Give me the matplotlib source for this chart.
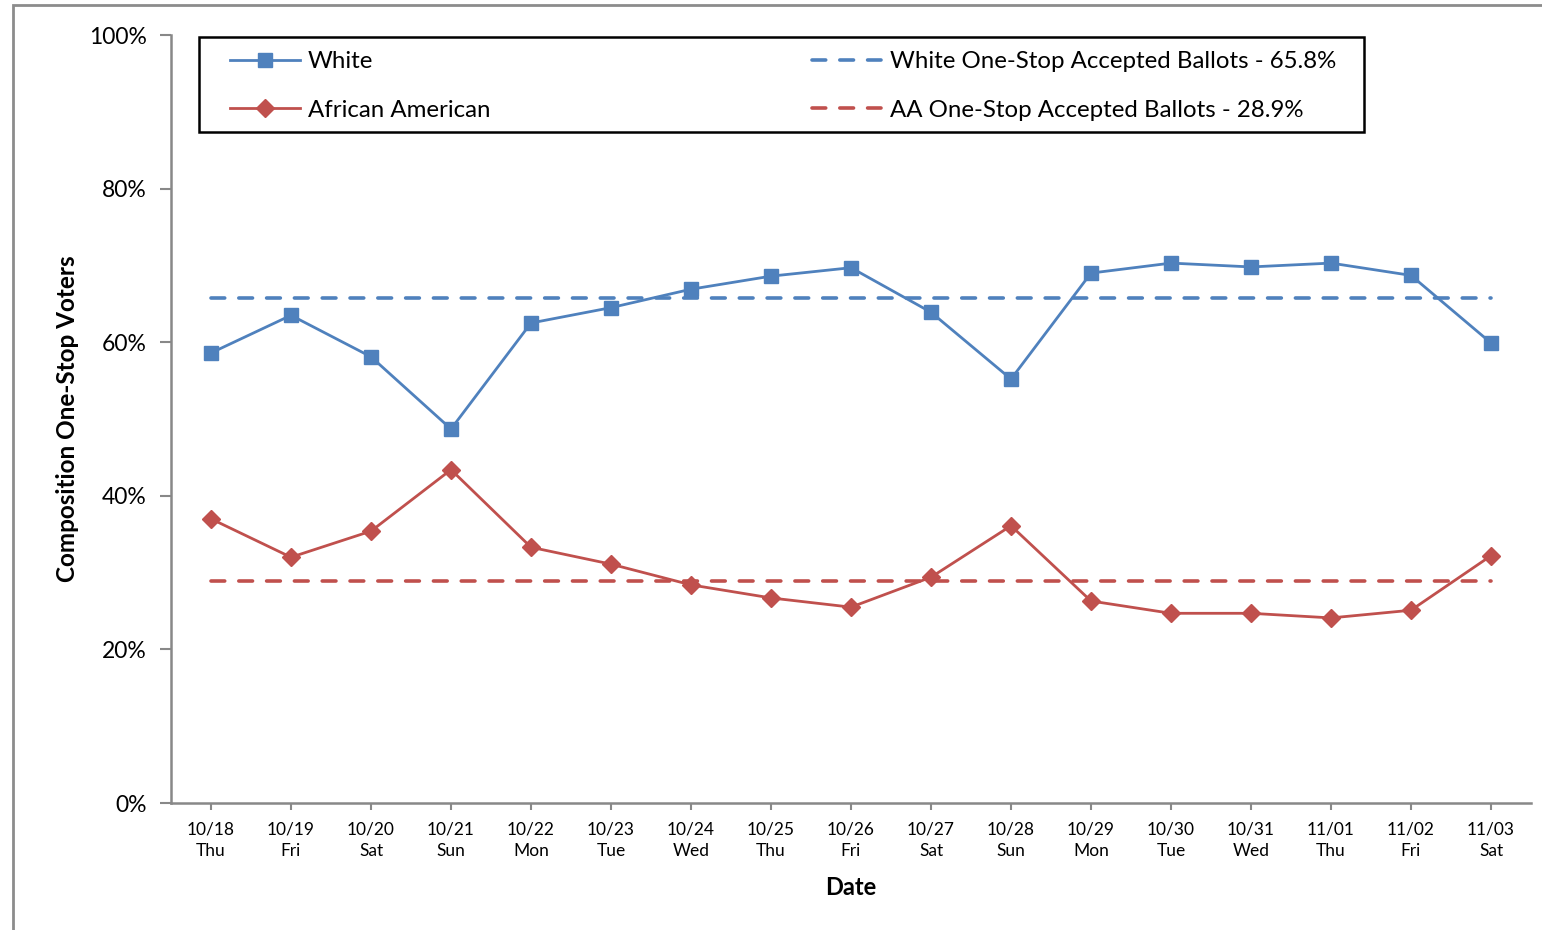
import matplotlib
matplotlib.use("Agg")
import matplotlib.pyplot as plt
from matplotlib.patches import Rectangle
from matplotlib.ticker import FuncFormatter

dates = ["10/18", "10/19", "10/20", "10/21", "10/22", "10/23", "10/24", "10/25", "10/26",
         "10/27", "10/28", "10/29", "10/30", "10/31", "11/01", "11/02", "11/03"]
days = ["Thu", "Fri", "Sat", "Sun", "Mon", "Tue", "Wed", "Thu", "Fri",
        "Sat", "Sun", "Mon", "Tue", "Wed", "Thu", "Fri", "Sat"]
white = [58.6, 63.5, 58.1, 48.7, 62.5, 64.5, 66.9, 68.6, 69.7,
         63.9, 55.2, 69.0, 70.3, 69.8, 70.3, 68.7, 59.9]
aa = [37.0, 32.0, 35.4, 43.4, 33.3, 31.1, 28.4, 26.7, 25.5,
      29.4, 36.1, 26.3, 24.7, 24.7, 24.1, 25.1, 32.2]
white_ref = 65.8
aa_ref = 28.9

plt.rcParams['font.family'] = ['Lato', 'DejaVu Sans']

BLUE = "#4F81BD"
RED = "#C0504D"
GRAY = "#888888"

W, H = 1542, 930
fig = plt.figure(figsize=(W/100, H/100), dpi=100)
fig.patches.append(Rectangle((13/W, -0.1), 2, 1.1 - 5/H, transform=fig.transFigure,
                             fill=False, edgecolor="#8c8c8c", linewidth=2))
AX_L, AX_R, AX_T, AX_B = 171, 1531, 35, 803
ax = fig.add_axes([AX_L/W, 1-AX_B/H, (AX_R-AX_L)/W, (AX_B-AX_T)/H])

def px2ax(xp, yp):
    return (xp-AX_L)/(AX_R-AX_L), 1-(yp-AX_T)/(AX_B-AX_T)

x = list(range(len(dates)))
l1, = ax.plot(x, white, color=BLUE, lw=2.0, marker="s", markersize=9.5, label="White", zorder=4)
l2, = ax.plot(x, aa, color=RED, lw=2.0, marker="D", markersize=9, label="African American", zorder=4)
l3, = ax.plot([x[0], x[-1]], [white_ref, white_ref], color=BLUE, lw=2.6, dashes=(3.8, 3.9),
              dash_capstyle="round", label="White One-Stop Accepted Ballots - 65.8%", zorder=3)
l4, = ax.plot([x[0], x[-1]], [aa_ref, aa_ref], color=RED, lw=2.6, dashes=(3.8, 3.9),
              dash_capstyle="round", label="AA One-Stop Accepted Ballots - 28.9%", zorder=3)

ax.set_xlim(-0.5, len(dates) - 0.5)
ax.set_ylim(0, 100)
ax.set_yticks([0, 20, 40, 60, 80, 100])
ax.yaxis.set_major_formatter(FuncFormatter(lambda v, p: f"{v:.0f}%"))
ax.set_xticks(x)
ax.set_xticklabels([f"{d}\n{w}" for d, w in zip(dates, days)], fontsize=12.5, linespacing=1.45)
ax.tick_params(axis="y", labelsize=16.5, length=8, width=1.5, color=GRAY, pad=9.5, direction="out")
ax.tick_params(axis="x", length=5, width=1.5, color=GRAY, pad=8, direction="out")

for s in ["top", "right"]:
    ax.spines[s].set_visible(False)
for s in ["left", "bottom"]:
    ax.spines[s].set_color(GRAY)
    ax.spines[s].set_linewidth(1.8)

ax.set_ylabel("Composition One-Stop Voters", fontsize=17.5, fontweight="bold", labelpad=7)
ax.set_xlabel("Date", fontsize=17, fontweight="bold", labelpad=12)

# legend frame
fx0, fy0 = px2ax(199, 132)
fx1, fy1 = px2ax(1364, 37)
ax.add_patch(Rectangle((fx0, fy0), fx1-fx0, fy1-fy0, transform=ax.transAxes, fill=True,
                       facecolor="white", edgecolor="black", linewidth=1.8, zorder=5, clip_on=False))
lx0, ltop = px2ax(230, 51)
lx1, _ = px2ax(1336, 51)
leg = ax.legend(handles=[l1, l2, l3, l4], ncol=2, loc="upper left",
                bbox_to_anchor=(lx0, ltop - 0.1, lx1 - lx0, 0.1),
                mode="expand", fontsize=17.3, frameon=False,
                borderaxespad=0, borderpad=0, handlelength=2.9, handletextpad=0.35,
                labelspacing=1.15, columnspacing=1.0)
leg.set_zorder(6)

fig.savefig("out.png", dpi=100)
